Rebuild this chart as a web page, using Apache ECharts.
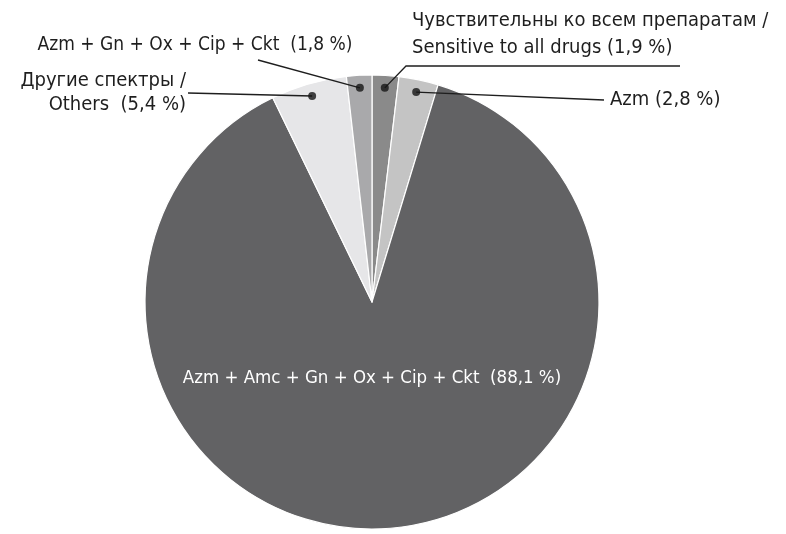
<!DOCTYPE html>
<html><head><meta charset="utf-8">
<script src="https://cdn.jsdelivr.net/npm/echarts@6/dist/echarts.min.js"></script>
<style>html,body{margin:0;padding:0;background:#fff}#c{width:786px;height:534px}</style>
</head><body><div id="c"></div>
<script>
const categories = ['Sensitive', 'Azm', 'Azm + Amc + Gn + Ox + Cip + Ckt', 'Others', 'Azm + Gn + Ox + Cip + Ckt'];
const values = [1.9, 2.8, 88.1, 5.4, 1.8];
const labelTexts = [
  'Чувствительны ко всем препаратам /\nSensitive to all drugs (1,9 %)',
  'Azm (2,8 %)',
  'Azm + Amc + Gn + Ox + Cip + Ckt  (88,1 %)',
  'Другие спектры /\nOthers  (5,4 %)',
  'Azm + Gn + Ox + Cip + Ckt  (1,8 %)'
];
const colors = ['#8a8a8a', '#c4c4c4', '#626264', '#e6e6e8', '#a9a9ab'];

const CENTER = [372, 302];
const RADIUS = 227;
const DOT_R = 0.945;
const FONT = "'Liberation Sans Narrow', 'DejaVu Sans Condensed', 'Roboto', sans-serif";

// label placement (annotation layout)
const place = [
  {x: 412, y: 7, align: 'left', verticalAlign: 'top'},
  {x: 610, y: 100, align: 'left', verticalAlign: 'middle'},
  {x: 372, y: 378, align: 'center', verticalAlign: 'middle'},
  {x: 186, y: 93, align: 'right', verticalAlign: 'middle'},
  {x: 195, y: 45, align: 'center', verticalAlign: 'middle'}
];

const total = values.reduce((a, b) => a + b, 0);
const mids = [];
let acc = 0;
values.forEach(v => { mids.push((acc + v / 2) / total * 100); acc += v; });

const pieData = categories.map((c, i) => ({name: c, value: values[i], itemStyle: {color: colors[i]}}));

const chart = echarts.init(document.getElementById('c'), null, {renderer: 'canvas'});
chart.setOption({
  animation: false,
  backgroundColor: '#fff',
  polar: {center: CENTER, radius: RADIUS},
  angleAxis: {type: 'value', min: 0, max: 100, startAngle: 90, clockwise: true, show: false},
  radiusAxis: {type: 'value', min: 0, max: 1, show: false},
  series: [{
    type: 'pie',
    z: 2,
    center: CENTER,
    radius: RADIUS,
    startAngle: 90,
    clockwise: true,
    silent: true,
    itemStyle: {borderColor: '#fff', borderWidth: 1.2},
    label: {show: false},
    labelLine: {show: false},
    data: pieData
  }, {
    type: 'pie',
    z: 3,
    center: CENTER,
    radius: RADIUS,
    startAngle: 90,
    clockwise: true,
    silent: true,
    itemStyle: {color: 'rgba(0,0,0,0)', borderWidth: 0},
    label: {
      show: true, position: 'outside', color: '#1e1e1e', fontFamily: FONT, fontSize: 20, lineHeight: 27,
      overflow: 'none',
      formatter: p => labelTexts[p.dataIndex]
    },
    labelLine: {show: true, lineStyle: {color: '#1e1e1e', width: 1.3}, length: 10, length2: 10},
    data: categories.map((c, i) => {
      const d = {name: c, value: values[i], itemStyle: {color: 'rgba(0,0,0,0)'}};
      if (i === 2) {
        d.label = {position: 'inside', color: '#fff', fontSize: 18.5};
        d.labelLine = {show: false};
      }
      if (i === 3) d.label = {lineHeight: 24};
      if (i === 4) d.label = {fontSize: 19};
      return d;
    }),
    labelLayout: function (params) {
      const i = params.dataIndex;
      const pl = place[i];
      const res = {x: pl.x, y: pl.y, align: pl.align, verticalAlign: pl.verticalAlign};
      if (i === 2) return res;
      const p0 = params.labelLinePoints ? params.labelLinePoints[0] : CENTER;
      const dot = [CENTER[0] + (p0[0] - CENTER[0]) * DOT_R, CENTER[1] + (p0[1] - CENTER[1]) * DOT_R];
      let pts;
      if (i === 0) pts = [dot, [pl.x - 6, pl.y + 59], [pl.x + 268, pl.y + 59]];
      else if (i === 1) pts = [dot, [pl.x - 6, pl.y], [pl.x - 6, pl.y]];
      else if (i === 3) pts = [dot, [pl.x + 2, pl.y], [pl.x + 2, pl.y]];
      else pts = [dot, [pl.x + 63, pl.y + 15], [pl.x + 63, pl.y + 15]];
      res.labelLinePoints = pts;
      return res;
    }
  }, {
    type: 'scatter',
    coordinateSystem: 'polar',
    silent: true,
    symbolSize: 8,
    z: 5,
    itemStyle: {color: '#151515'},
    data: mids.map((m, i) => i === 2 ? null : [DOT_R, m]).filter(d => d)
  }]
});
</script></body></html>
